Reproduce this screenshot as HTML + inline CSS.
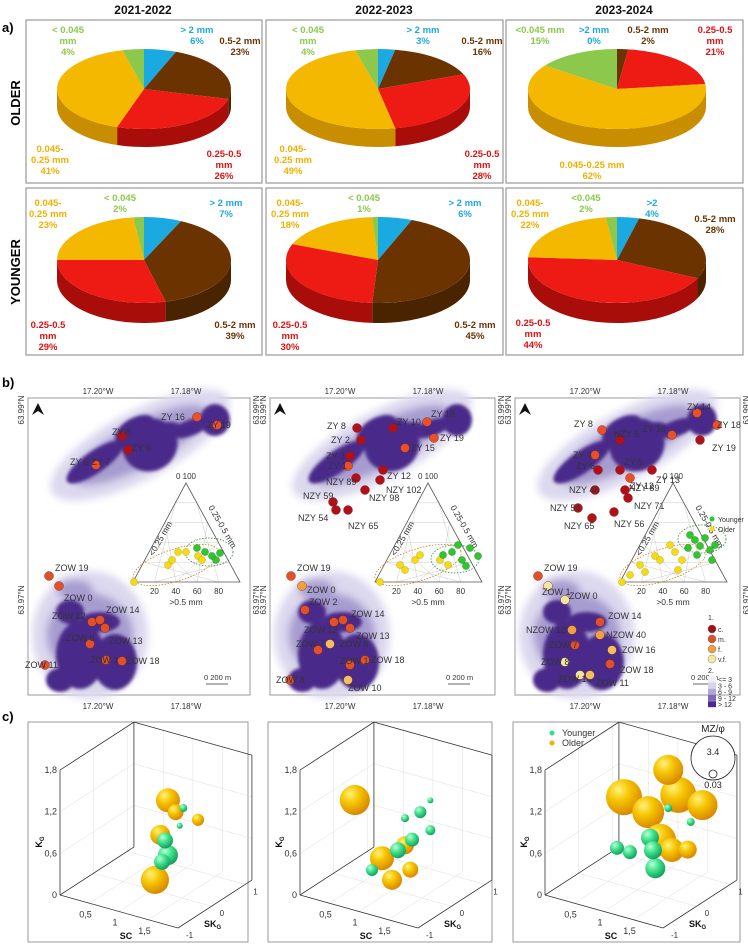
<!DOCTYPE html>
<html><head><meta charset="utf-8"><style>
body{margin:0;background:#fff;font-family:"Liberation Sans",sans-serif}
svg{display:block}
</style></head><body>
<svg id="fig" width="748" height="945" viewBox="0 0 748 945" xmlns="http://www.w3.org/2000/svg" font-family="Liberation Sans, sans-serif">
<defs>
<filter id="blur"><feGaussianBlur stdDeviation="4"/></filter>
<filter id="blur2"><feGaussianBlur stdDeviation="1.5"/></filter>
<radialGradient id="gy" cx="35%" cy="30%" r="70%"><stop offset="0" stop-color="#fff27a"/><stop offset="0.45" stop-color="#f6c400"/><stop offset="1" stop-color="#d98a00"/></radialGradient>
<radialGradient id="gg" cx="35%" cy="30%" r="70%"><stop offset="0" stop-color="#b6ffd6"/><stop offset="0.5" stop-color="#3ee08a"/><stop offset="1" stop-color="#17a060"/></radialGradient>
</defs>
<g font-weight="bold" font-size="12" text-anchor="middle" fill="#111">
<text x="143" y="14">2021-2022</text>
<text x="384" y="14">2022-2023</text>
<text x="624" y="14">2023-2024</text>
</g>
<text x="2" y="32" font-size="13" font-weight="bold">a)</text>
<text x="2" y="387" font-size="13" font-weight="bold">b)</text>
<text x="2" y="721" font-size="13" font-weight="bold">c)</text>
<text transform="translate(20,103) rotate(-90)" font-size="13" font-weight="bold" text-anchor="middle">OLDER</text>
<text transform="translate(20,272) rotate(-90)" font-size="13" font-weight="bold" text-anchor="middle">YOUNGER</text>
<g id="pies"></g>
<g id="maps"></g>
<g id="cubes"></g>
</svg>
<script>
// ---------- PIE DATA ----------
const pieCategories = ['> 2 mm','0.5-2 mm','0.25-0.5 mm','0.045-0.25 mm','< 0.045 mm'];
const olderValues = [[6,23,26,41,4],[3,16,28,49,4],[0,2,21,62,15]];
const youngerValues = [[7,39,29,23,2],[6,45,30,18,1],[4,28,44,22,2]];
const pieColors = ['#1ba9e1','#6a3300','#ee1a14','#f5b800','#8cc84b'];
const pieSide = ['#0f7fb0','#4a2300','#a80d0a','#c88e00','#66a02e'];
const NS='http://www.w3.org/2000/svg';
function el(tag,attrs,parent){const e=document.createElementNS(NS,tag);for(const k in attrs)e.setAttribute(k,attrs[k]);parent.appendChild(e);return e;}
const pies=document.getElementById('pies');
const boxX=[26,266,506], boxW=[236,237,237];
const rows=[{y:20,h:163,cy:89,ry:40,d:18,vals:olderValues,name:'older'},{y:188,h:167,cy:260,ry:43,d:20,vals:youngerValues,name:'younger'}];
const cxs=[144,378,617], rxs=[87,92,89];
function pt(cx,cy,rx,ry,a){return [cx+rx*Math.sin(a),cy-ry*Math.cos(a)];}
rows.forEach((r,ri)=>{
 for(let c=0;c<3;c++){
  const b=el('rect',{x:boxX[c],y:r.y,width:boxW[c],height:r.h,fill:'#fff',stroke:'#9a9a9a','stroke-width':1.2},pies);
  
  
  const g=el('g',{},pies);
  
  
  const vals=r.vals[c], tot=vals.reduce((a,b)=>a+b,0);
  const cx=cxs[c],cy=r.cy,rx=rxs[c],ry=r.ry,d=r.d;
  let a0=0; const spans=[];
  vals.forEach((v,i)=>{const a1=a0+v/tot*2*Math.PI;spans.push([a0,a1]);a0=a1;});
  spans.forEach(([s,e],i)=>{
   const lo=Math.max(s,Math.PI/2),hi=Math.min(e,Math.PI*1.5);
   if(hi<=lo)return;
   const p1=pt(cx,cy,rx,ry,lo),p2=pt(cx,cy,rx,ry,hi);
   const path=`M${p1[0]},${p1[1]} A${rx},${ry} 0 0 1 ${p2[0]},${p2[1]} L${p2[0]},${p2[1]+d} A${rx},${ry} 0 0 0 ${p1[0]},${p1[1]+d} Z`;
   const sd=el('path',{d:path,fill:pieSide[i]},g);
   
   
  });
  spans.forEach(([s,e],i)=>{
   if(e-s<=0)return;
   const p1=pt(cx,cy,rx,ry,s),p2=pt(cx,cy,rx,ry,e);
   const large=(e-s)>Math.PI?1:0;
   const sl=el('path',{d:`M${cx},${cy} L${p1[0]},${p1[1]} A${rx},${ry} 0 ${large} 1 ${p2[0]},${p2[1]} Z`,fill:pieColors[i]},g);
   
   
  });
 }
});
const G='#8cc84b',B='#1ba9e1',Br='#6a3300',R='#e01010',O='#f0b000';
const labels=[
 [68,33,G,['< 0.045','mm','4%']],[197,33,B,['> 2 mm','6%']],[240,44,Br,['0.5-2 mm','23%']],[50,152,O,['0.045-','0.25 mm','41%']],[224,157,R,['0.25-0.5','mm','26%']],
 [308,33,G,['< 0.045','mm','4%']],[423,33,B,['> 2 mm','3%']],[482,44,Br,['0.5-2 mm','16%']],[293,152,O,['0.045-','0.25 mm','49%']],[482,157,R,['0.25-0.5','mm','28%']],
 [540,33,G,['<0.045 mm','15%']],[594,33,B,['>2 mm','0%']],[648,33,Br,['0.5-2 mm','2%']],[715,33,R,['0.25-0.5','mm','21%']],[592,168,O,['0.045-0.25 mm','62%']],
 [48,206,O,['0.045-','0.25 mm','23%']],[120,201,G,['< 0.045','2%']],[226,206,B,['> 2 mm','7%']],[235,328,Br,['0.5-2 mm','39%']],[48,328,R,['0.25-0.5','mm','29%']],
 [290,206,O,['0.045-','0.25 mm','18%']],[364,201,G,['< 0.045','1%']],[465,206,B,['> 2 mm','6%']],[475,328,Br,['0.5-2 mm','45%']],[290,328,R,['0.25-0.5','mm','30%']],
 [530,206,O,['0.045-','0.25 mm','22%']],[586,201,G,['<0.045','2%']],[652,206,B,['>2','4%']],[715,222,Br,['0.5-2 mm','28%']],[533,326,R,['0.25-0.5','mm','44%']]
];
labels.forEach((l,i)=>{
 const t=el('text',{x:l[0],y:l[1],fill:l[2],'font-size':9.5,'font-weight':'bold','text-anchor':'middle'},pies);
 
 
 l[3].forEach((s,k)=>{const ts=el('tspan',{x:l[0],dy:k?11:0},t);ts.textContent=s;});
});

// ---------- MAPS ----------
const maps=document.getElementById('maps');
const mapX=[28,270,515], mapW=[222,225,225];
const dark=[[95,462,34,11,-35],[150,445,28,26,-30],[135,430,22,12,-30],[215,420,15,16,0],[190,428,20,8,-20],[170,430,14,8,0],[80,655,24,34,0],[115,662,22,28,0],[100,622,20,10,0],[60,680,14,12,0],[70,612,14,12,0]];
const light=[[140,445,100,34,-28],[90,635,58,64,0],[75,590,24,16,0]];
const panelPts=[
 [[197,417,'#e8502a','ZY 16',-36,0],[217,425,'#e8502a','ZY 19',-10,0],[122,436,'#b0101a','ZY 8',-10,-4],[128,450,'#b0101a','ZY 9',4,-2],[96,465,'#e8502a','ZY 6 ZY 7',-26,-3],[49,576,'#e0502a','ZOW 19',6,-8],[59,586,'#e0502a','ZOW 0',5,12],[92,622,'#e0502a','ZOW 12',-40,-6],[100,620,'#e0502a','ZOW 14',6,-10],[105,628,'#e0502a','ZOW 13',4,13],[90,644,'#e0502a','ZOW 6',-24,-6],[122,661,'#e0502a','ZOW 18',4,0],[106,660,'#e0502a','ZOW 1',-16,0],[45,665,'#e0502a','ZOW 11',-20,0]],
 [[357,428,'#b0101a','ZY 8',-30,-2],[361,440,'#b0101a','ZY 2',-30,0],[393,428,'#b0101a','ZY 10',4,-6],[427,422,'#e8502a','ZY 18',4,-8],[434,438,'#e8502a','ZY 19',6,0],[405,448,'#e8502a','ZY 15',6,0],[350,456,'#b0101a','ZY 3',-24,0],[348,466,'#e8502a','ZY 1',-20,0],[383,470,'#b0101a','ZY 12',4,6],[356,478,'#b0101a','NZY 89',-30,4],[365,490,'#b0101a','NZY 98',4,8],[380,480,'#b0101a','NZY 102',6,10],[333,502,'#b0101a','NZY 59',-30,-6],[336,510,'#b0101a','NZY 54',-38,8],[348,510,'#b0101a','NZY 65',0,16],[291,576,'#e0502a','ZOW 19',6,-8],[302,586,'#f0a040','ZOW 0',5,4],[305,610,'#e0502a','ZOW 2',4,-8],[334,622,'#e0502a','ZOW 12',-30,8],[343,620,'#e0502a','ZOW 14',8,-6],[350,628,'#e0502a','ZOW 13',6,8],[330,644,'#f0c060','ZOW 6',10,0],[318,650,'#e0502a','ZOW 7',-22,-6],[365,660,'#e0502a','ZOW 18',6,0],[350,665,'#e0502a','ZOW 1',-10,-4],[348,680,'#f0c060','ZOW 10',0,8],[290,680,'#e0502a','ZOW 8',-14,0]],
 [[697,413,'#e8502a','ZY 14',-10,-6],[717,425,'#e8502a','ZY 18',0,0],[672,435,'#e8502a','ZY 16',-30,-6],[602,430,'#e8502a','ZY 8',-28,-6],[620,440,'#b0101a','NZY 5',-6,-6],[595,455,'#e8502a','ZY 3',-22,0],[598,470,'#b0101a','ZY 6',-22,-4],[620,470,'#b0101a','ZY 5',4,-8],[630,478,'#e8502a','ZY 12',0,8],[652,470,'#b0101a','ZY 13',4,10],[700,440,'#b0101a','ZY 19',12,8],[595,490,'#b0101a','NZY 46',-26,0],[625,490,'#b0101a','NZY 89',4,-2],[628,498,'#b0101a','NZY 71',6,8],[578,508,'#b0101a','NZY 54',-28,0],[592,518,'#b0101a','NZY 65',-28,8],[614,512,'#b0101a','NZY 56',0,12],[538,576,'#e0502a','ZOW 19',6,-8],[548,586,'#f0e6a0','ZOW 1',-6,6],[565,600,'#f0e6a0','ZOW 0',4,-4],[600,622,'#e0502a','ZOW 14',8,-6],[572,630,'#f0a040','NZOW 12',-46,0],[600,635,'#f0a040','NZOW 40',6,0],[575,645,'#e0502a','ZOW 7',-26,0],[612,650,'#f0c060','ZOW 16',10,0],[610,664,'#e0502a','ZOW 18',10,6],[565,662,'#f0e6a0','ZOW 8',-24,0],[580,675,'#f0e6a0','ZOW 10',-22,4],[590,675,'#f0c060','ZOW 11',6,8]]
];
const ternG=[[[197,548],[205,552],[212,556],[220,553],[216,560]],[[443,555],[452,552],[458,545],[462,560],[470,548],[478,556],[466,566]],[[690,535],[695,540],[700,546],[705,538],[710,550],[715,545],[697,555],[688,548],[712,560]]];
const ternY=[[[134,582],[168,565],[172,560],[178,552],[186,552],[198,556],[202,560]],[[380,582],[400,565],[405,570],[415,560],[420,555],[440,560],[448,565]],[[622,582],[630,575],[640,565],[645,572],[655,556],[660,560],[670,545],[675,552],[682,560],[678,570]]];
for(let p=0;p<3;p++){
 const dx=mapX[p]-28;
 const fr=el('rect',{x:mapX[p],y:398,width:mapW[p],height:297,fill:'#fff',stroke:'#9a9a9a','stroke-width':1},maps);
 
 
 const bl=el('g',{transform:`translate(${dx},0)`},maps);
 
 
 const lg=el('g',{filter:'url(#blur)'},bl);
 light.forEach(e=>el('ellipse',{cx:e[0],cy:e[1],rx:e[2],ry:e[3],fill:'#dcd8ee',transform:`rotate(${e[4]} ${e[0]} ${e[1]})`},lg));
 light.forEach(e=>el('ellipse',{cx:e[0],cy:e[1],rx:e[2]*0.75,ry:e[3]*0.65,fill:'#a79ccf',transform:`rotate(${e[4]} ${e[0]} ${e[1]})`},lg));
 const dg=el('g',{filter:'url(#blur2)'},bl);
 dark.forEach(e=>el('ellipse',{cx:e[0],cy:e[1],rx:e[2],ry:e[3],fill:'#4a2a8a',transform:`rotate(${e[4]} ${e[0]} ${e[1]})`},dg));
 const ar=el('path',{d:`M${mapX[p]+10},403 l-6,12 l6,-4 l6,4 z`,fill:'#111'},maps);
 
 
 [['17.20°W',mapX[p]+70,394],['17.18°W',mapX[p]+158,394],['17.20°W',mapX[p]+70,709],['17.18°W',mapX[p]+158,709]].forEach((c,i)=>{
  const t=el('text',{x:c[1],y:c[2],'font-size':8,fill:'#333','text-anchor':'middle'},maps);t.textContent=c[0];
  
  
 });
 [[mapX[p]-4,410,'63.99°N'],[mapX[p]-4,600,'63.97°N'],[mapX[p]+mapW[p]+9,410,'63.99°N'],[mapX[p]+mapW[p]+9,600,'63.97°N']].forEach(c=>{
  const t=el('text',{transform:`translate(${c[0]},${c[1]}) rotate(-90)`,'font-size':8,fill:'#333','text-anchor':'middle'},maps);t.textContent=c[2];
  
  
 });
 const sb=el('path',{d:`M${mapX[p]+178},684 h22`,stroke:'#333','stroke-width':0.8},maps);
 
 
 const st=el('text',{x:mapX[p]+176,y:680,'font-size':7.5,fill:'#333'},maps);st.textContent='0   200 m';
 
 
 panelPts[p].forEach(q=>{
  const c=el('circle',{cx:q[0],cy:q[1],r:4.5,fill:q[2],stroke:'#7a2010','stroke-width':0.4},maps);
  
  
  const t=el('text',{x:q[0]+q[4],y:q[1]+q[5]+3,'font-size':9,fill:'#333'},maps);t.textContent=q[3];
  
  
 });
 const tx=[mapX[p]+105,mapX[p]+158,mapX[p]+212], ty=[582,483];
 const tri=el('g',{},maps);
 
 
 const L=[tx[0],ty[0]],Rr=[tx[2],ty[0]],T=[tx[1],ty[1]];
 for(let k=1;k<5;k++){const f=k/5;
  const a=[L[0]+(T[0]-L[0])*f,L[1]+(T[1]-L[1])*f],b=[Rr[0]+(T[0]-Rr[0])*f,Rr[1]+(T[1]-Rr[1])*f],cc=[L[0]+(Rr[0]-L[0])*f,L[1]];
  el('line',{x1:a[0],y1:a[1],x2:b[0],y2:b[1],stroke:'#ccc','stroke-width':0.5},tri);
  el('line',{x1:a[0],y1:a[1],x2:L[0]+(Rr[0]-L[0])*(1-f),y2:L[1],stroke:'#ccc','stroke-width':0.5},tri);
  el('line',{x1:b[0],y1:b[1],x2:cc[0],y2:cc[1],stroke:'#ccc','stroke-width':0.5},tri);
  const n=el('text',{x:L[0]+(Rr[0]-L[0])*f,y:594,'font-size':8,'text-anchor':'middle',fill:'#333'},tri);n.textContent=String(k*20);
 }
 el('polygon',{points:`${L} ${Rr} ${T}`,fill:'none',stroke:'#555','stroke-width':0.8},tri);
 const xl=el('text',{x:tx[1],y:605,'font-size':8.5,'text-anchor':'middle',fill:'#333'},tri);xl.textContent='>0.5 mm';
 const lt=el('text',{x:tx[1],y:ty[1]-4,'font-size':8,'text-anchor':'middle',fill:'#333'},tri);lt.textContent='0 100';
 const ll=el('text',{transform:`translate(${tx[0]+30},${540}) rotate(-60)`,'font-size':8.5,'text-anchor':'middle',fill:'#333'},tri);ll.textContent='<0.25 mm';
 const rl=el('text',{transform:`translate(${tx[2]-20},${528}) rotate(60)`,'font-size':8.5,'text-anchor':'middle',fill:'#333'},tri);rl.textContent='0.25-0.5 mm';
 el('ellipse',{cx:ternG[p][0][0]+12,cy:ternG[p][0][1]+4,rx:24,ry:14,fill:'none',stroke:'#2a8a40','stroke-dasharray':'1.5 1.5','stroke-width':0.8},tri);
 el('ellipse',{cx:tx[1]-10,cy:565,rx:45,ry:16,fill:'none',stroke:'#d08020','stroke-dasharray':'1.5 1.5','stroke-width':0.8,transform:`rotate(-18 ${tx[1]-10} 565)`},tri);
 ternY[p].forEach(q=>{const c=el('circle',{cx:q[0],cy:q[1],r:3.5,fill:'#f5dc10',stroke:'#b09000','stroke-width':0.4},tri);
  
  });
 ternG[p].forEach(q=>{const c=el('circle',{cx:q[0],cy:q[1],r:3.5,fill:'#2ec82e',stroke:'#107010','stroke-width':0.4},tri);
  
  });
}
[['Younger','#2ec82e',522],['Older','#f5dc10',532]].forEach(l=>{
 const c=el('circle',{cx:712,cy:l[2]-3,r:2.5,fill:l[1]},maps);
 
 
 const t=el('text',{x:718,y:l[2],'font-size':7,fill:'#333'},maps);t.textContent=l[0];
 
 
});
const legLines=[['1.',null,620],['c.','#a0101a',632],['m.','#e0502a',642],['f.','#f0a040',652],['v.f.','#f5e8a0',662],['2.',null,674],['<= 3','#f0eef6',684],['3 - 6','#d8d4ea',691],['6 - 9','#b0a8d6',698],['9 - 12','#7c6cb8',705],['> 12','#4b2a8c',712]];
legLines.forEach(l=>{
 if(l[1]){ if(l[2]<670){const c=el('circle',{cx:712,cy:l[2]-3,r:4,fill:l[1],stroke:'#666','stroke-width':0.4},maps);
   
   }
  else{const r=el('rect',{x:708,y:(l[2]-684)*0.9+676,width:8,height:6,fill:l[1]},maps);
   
   }}
 const t=el('text',{x:l[1]?718:708,y:l[2]<670?l[2]:(l[2]-684)*0.9+682,'font-size':7,fill:'#333'},maps);t.textContent=l[0];
 
 
});

// ---------- 3D BUBBLE CHARTS ----------
const p1SC=[1.26,1.39,1.13,1.04,1.77,1.21,1.26,1.16,1.52,1.46];
const p1SK=[0,0,0,0,0,0,0,0,0,0];
const p1KG=[1.35,1.21,0.82,0.15,1.19,0.76,0.56,0.44,1.30,1.03];
const p1MZ=[1.64,0.92,1.28,2.0,0.57,0.92,1.28,0.92,0.21,0.03];
const p1Grp=['o','o','o','o','o','y','y','y','y','y'];
const p2SC=[0.36,0.82,1.21,0.99,1.30,1.21,1.47,1.33,1.09,1.64,0.65,1.64];
const p2SK=[0,0,0,0,0,0,0,0,0,0,0,0];
const p2KG=[1.14,0.41,0.69,0.14,0.36,1.08,1.23,0.80,0.59,1.01,0.20,1.44];
const p2MZ=[2.18,1.64,1.10,1.28,0.92,0.21,0.57,0.74,0.92,0.39,0.57,0.03];
const p2Grp=['o','o','o','o','o','y','y','y','y','y','y','y'];
const p3SC=[0.77,1.52,1.69,2.10,1.18,1.38,1.58,1.85,0.87,1.21,1.26,1.30,1.52,1.90,0.65];
const p3SK=[0,0,0,0,0,0,0,0,0,0,0,0,0,0,0];
const p3KG=[1.28,1.85,1.53,1.48,1.16,0.81,0.71,0.78,0.51,0.80,0.63,0.38,1.30,1.19,0.52];
const p3MZ=[2.71,2.18,2.71,2.18,2.35,2.35,1.64,1.10,0.74,1.10,1.10,1.28,0.21,0.21,0.74];
const p3Grp=['o','o','o','o','o','o','o','o','y','y','y','y','y','y','y'];
const kgTicks=['0','0,6','1,2','1,8'], kgTickVals=[0,0.6,1.2,1.8];
const scTicks=['0,5','1','1,5'], scTickVals=[0.5,1,1.5];
const skTicks=['-1','0','1'], skTickVals=[-1,0,1];
const cubes=document.getElementById('cubes');
const cubeX=[28,268,513], cubeW=[220,224,227];
const sets=[[p1SC,p1SK,p1KG,p1MZ,p1Grp],[p2SC,p2SK,p2KG,p2MZ,p2Grp],[p3SC,p3SK,p3KG,p3MZ,p3Grp]];
function proj(ox,oy,sc,sk,kg){return [ox+32+59*sc+33.6*(sk+1), oy+173+16.5*sc-21.8*(sk+1)-69.4*kg];}
function rad(mz){return 3+5.6*(mz-0.03);}
for(let p=0;p<3;p++){
 const ox=cubeX[p],oy=722;
 const fr=el('rect',{x:ox,y:oy,width:cubeW[p],height:220,fill:'#fff',stroke:'#9a9a9a','stroke-width':1},cubes);
 
 
 const P=(a,b,c)=>proj(ox,oy,a,b,c);
 const grid=el('g',{stroke:'#ddd','stroke-width':0.5},cubes);
 
 
 [0.6,1.2].forEach(k=>{const a=P(0,1.2,k),b=P(0,-1,k),c=P(2,1.2,k);el('line',{x1:a[0],y1:a[1],x2:b[0],y2:b[1]},grid);el('line',{x1:a[0],y1:a[1],x2:c[0],y2:c[1]},grid);});
 [0.5,1,1.5].forEach(s=>{const a=P(s,-1,0),b=P(s,1.2,0),c=P(s,1.2,1.8);el('polyline',{points:`${a} ${b} ${c}`,fill:'none'},grid);});
 [0,1].forEach(s=>{const a=P(0,s,0),b=P(2,s,0),c=P(0,s,1.8);el('polyline',{points:`${c} ${a} ${b}`,fill:'none'},grid);});
 const ax=el('g',{stroke:'#333','stroke-width':0.8,fill:'none'},cubes);
 
 
 const lines=[[P(0,-1,0),P(2,-1,0)],[P(2,-1,0),P(2,1.2,0)],[P(0,-1,0),P(0,1.2,0)],[P(0,-1,0),P(0,-1,1.8)],[P(0,1.2,0),P(0,1.2,1.8)],[P(0,-1,1.8),P(0,1.2,1.8)],[P(0,1.2,1.8),P(2,1.2,1.8)],[P(2,1.2,0),P(2,1.2,1.8)]];
 lines.forEach(l=>el('line',{x1:l[0][0],y1:l[0][1],x2:l[1][0],y2:l[1][1]},ax));
 kgTicks.forEach((t,i)=>{const q=P(0,-1,kgTickVals[i]);const tt=el('text',{x:q[0]-3,y:q[1]+3,'font-size':9,'text-anchor':'end',fill:'#333'},cubes);tt.textContent=t;
  
  });
 scTicks.forEach((t,i)=>{const q=P(scTickVals[i],-1,0);const tt=el('text',{x:q[0]-4,y:q[1]+14,'font-size':9,'text-anchor':'middle',fill:'#333'},cubes);tt.textContent=t;
  
  });
 skTicks.forEach((t,i)=>{const q=P(2,skTickVals[i],0);const tt=el('text',{x:q[0]+8,y:q[1]+10,'font-size':8,fill:'#333'},cubes);tt.textContent=t;
  
  });
 const kl=el('text',{transform:`translate(${ox+14},${oy+120}) rotate(-90)`,'font-size':9,'font-weight':'bold','text-anchor':'middle',fill:'#111'},cubes);kl.innerHTML='K<tspan font-size="6" dy="2">G</tspan>';
 
 
 const sl=el('text',{x:ox+98,y:oy+217,'font-size':9,'font-weight':'bold','text-anchor':'middle',fill:'#111'},cubes);sl.textContent='SC';
 
 
 const kk=el('text',{x:ox+176,y:oy+205,'font-size':9,'font-weight':'bold',fill:'#111'},cubes);kk.innerHTML='SK<tspan font-size="6" dy="2">G</tspan>';
 
 
 const [SC,SK,KG,MZ,GR]=sets[p];
 const idx=SC.map((_,i)=>i).sort((a,b)=>SK[b]-SK[a]||MZ[b]-MZ[a]);
 idx.forEach(i=>{const q=P(SC[i],SK[i],KG[i]);
  const c=el('circle',{cx:q[0],cy:q[1],r:rad(MZ[i]),fill:GR[i]==='o'?'url(#gy)':'url(#gg)'},cubes);
  
  });
}
[['Younger','#2ee08a',736],['Older','#f0b000',746]].forEach(l=>{
 const c=el('circle',{cx:552,cy:l[2]-3,r:2.5,fill:l[1]},cubes);
 
 
 const t=el('text',{x:562,y:l[2],'font-size':9,fill:'#333'},cubes);t.textContent=l[0];
 
 
});
const big=el('circle',{cx:713,cy:758,r:22,fill:'#fff',stroke:'#222','stroke-width':0.8},cubes);


const sm=el('circle',{cx:713,cy:774,r:4,fill:'none',stroke:'#222','stroke-width':0.8},cubes);


[['MZ/φ',713,732,10],['3.4',713,755,9],['0.03',713,788,9]].forEach(l=>{const t=el('text',{x:l[1],y:l[2],'font-size':l[3],'text-anchor':'middle',fill:'#222'},cubes);t.textContent=l[0];
 
 });
</script>
</body></html>
